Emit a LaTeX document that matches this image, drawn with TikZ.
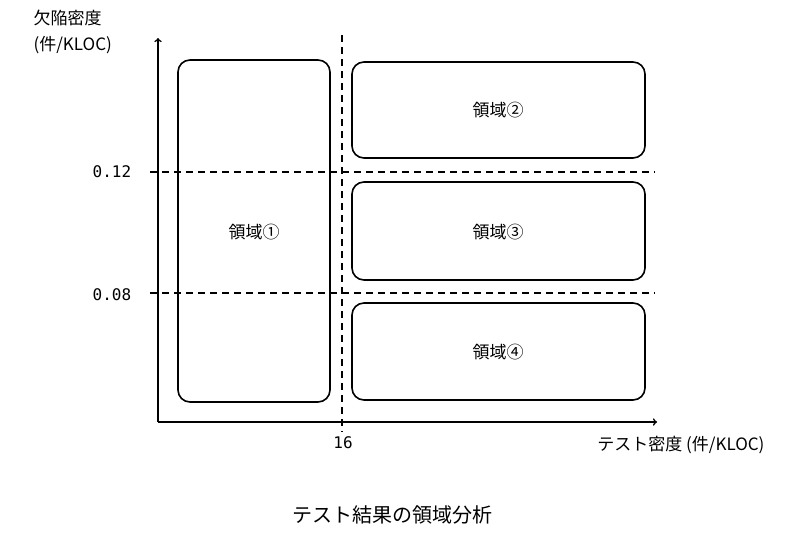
\documentclass[tikz,border=0pt]{standalone}
\usepackage{fontspec}
\setmainfont{Noto Sans CJK JP}
\newfontfamily\numfont{DejaVu Sans Mono}
\begin{document}
\begin{tikzpicture}[x=1pt,y=-1pt,
  ln/.style={line width=1.6pt},
  box/.style={ln,rounded corners=12pt},
  dsh/.style={line width=1.4pt,dash pattern=on 7pt off 5pt},
  lab/.style={font=\fontsize{17}{20}\selectfont},
  num/.style={font=\numfont\fontsize{16}{18}\selectfont}]
\useasboundingbox (0,0) rectangle (789,542);
\coordinate (o) at (158,422);
\coordinate (ytop) at (158,38);
\coordinate (xend) at (657,422);
\draw[ln,->] (o) -- (ytop);
\draw[ln,->] (o) -- (xend);
\draw[box] (178,60) rectangle (330,402);
\draw[box] (352,62) rectangle (645,158);
\draw[box] (352,182) rectangle (645,280);
\draw[box] (352,303) rectangle (645,400);
\coordinate (v1) at (342,35); \coordinate (v2) at (342,432);
\draw[dsh] (v1) -- (v2);
\coordinate (h1a) at (150,172); \coordinate (h1b) at (655,172);
\coordinate (h2a) at (150,293); \coordinate (h2b) at (655,293);
\draw[dsh] (h1a) -- (h1b);
\draw[dsh] (h2a) -- (h2b);
\node[lab] (r1) at (254,232) {領域①};
\node[lab] (r2) at (498,110) {領域②};
\node[lab] (r3) at (498,232) {領域③};
\node[lab] (r4) at (498,352) {領域④};
\node[num] (t12) at (112,172) {0.12};
\node[num] (t08) at (112,295) {0.08};
\node[num] (t16) at (343,443) {16};
\node[lab,anchor=west] (yl1) at (30,18) {欠陥密度};
\node[lab,anchor=west] (yl2) at (30,45) {(件/KLOC)};
\node[lab,anchor=east] (xl) at (768,445) {テスト密度 (件/KLOC)};
\node[font=\fontsize{20}{24}\selectfont] (title) at (392,515) {テスト結果の領域分析};
\end{tikzpicture}
\end{document}
